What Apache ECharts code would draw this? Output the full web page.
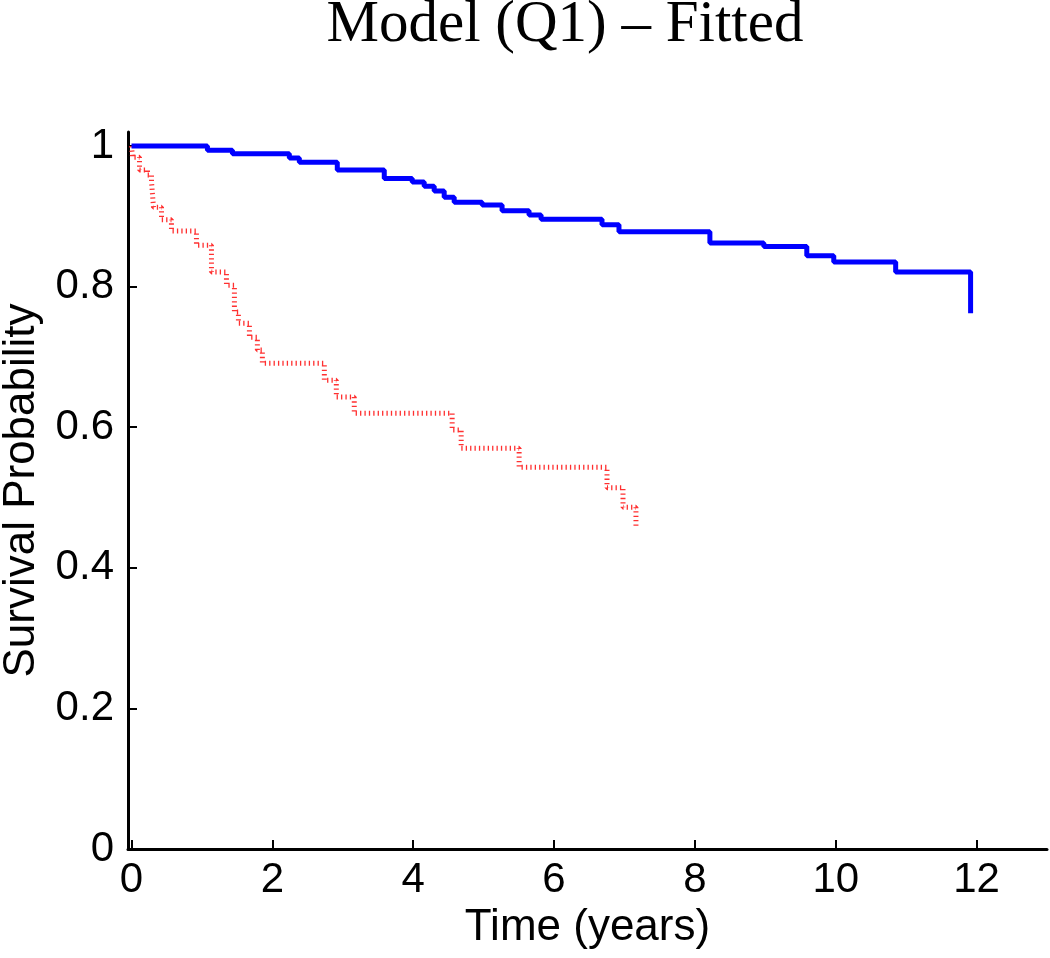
<!DOCTYPE html>
<html>
<head>
<meta charset="utf-8">
<script src="https://cdn.jsdelivr.net/npm/echarts@6/dist/echarts.min.js"></script>
<style>html,body{margin:0;padding:0;background:#fff}#c{width:1050px;height:958px}</style>
</head>
<body>
<div id="c"></div>
<script>
const titleText = 'Model (Q1) – Fitted';
const xName = 'Time (years)';
const yName = 'Survival Probability';
const xTicks = [0, 2, 4, 6, 8, 10, 12];
const yTicks = [0, 0.2, 0.4, 0.6, 0.8, 1];
const yTickLabels = ['0', '0.2', '0.4', '0.6', '0.8', '1'];

const blueTime = [0, 1.078, 1.433, 2.241, 2.383, 2.922, 3.589, 3.986, 4.156, 4.298, 4.44, 4.582, 4.979, 5.262, 5.645, 5.816, 6.681, 6.922, 8.213, 8.979, 9.589, 9.972, 10.851, 11.915];
const blueSurv = [1.0, 0.994, 0.989, 0.983, 0.977, 0.966, 0.954, 0.949, 0.943, 0.936, 0.927, 0.920, 0.916, 0.908, 0.902, 0.896, 0.888, 0.878, 0.862, 0.857, 0.844, 0.835, 0.821, 0.762];

const redTime = [0, 0.014, 0.113, 0.227, 0.284, 0.312, 0.426, 0.567, 0.922, 1.135, 1.348, 1.461, 1.518, 1.674, 1.787, 1.858, 2.738, 2.908, 3.163, 4.553, 4.681, 5.504, 6.752, 6.979, 7.163];
const redSurv = [1.0, 0.984, 0.966, 0.959, 0.949, 0.913, 0.895, 0.879, 0.859, 0.821, 0.802, 0.764, 0.748, 0.728, 0.710, 0.691, 0.667, 0.643, 0.620, 0.596, 0.570, 0.543, 0.514, 0.486, 0.458];

const pair = (xs, ys) => xs.map((x, i) => [x, ys[i]]);

const chart = echarts.init(document.getElementById('c'), null, {renderer: 'canvas'});
const axisFont = 'Liberation Sans, Arial, sans-serif';
chart.setOption({
  animation: false,
  backgroundColor: '#ffffff',
  title: {
    text: titleText,
    left: 560,
    top: -9,
    textAlign: 'center',
    textStyle: {fontFamily: 'Liberation Serif, Times New Roman, serif', fontSize: 59, fontWeight: 'normal', color: '#000'}
  },
  grid: {left: 128, right: 3, top: 132, bottom: 109, containLabel: false, outerBoundsMode: 'none'},
  xAxis: {
    type: 'value',
    min: -0.05,
    max: 13,
    name: xName,
    nameLocation: 'middle',
    nameGap: 54,
    nameTextStyle: {fontFamily: axisFont, fontSize: 44, color: '#000'},
    axisLine: {show: true, onZero: false, lineStyle: {color: '#000', width: 3}},
    axisTick: {show: true, inside: true, length: 9, lineStyle: {color: '#000', width: 2}, customValues: xTicks},
    axisLabel: {fontFamily: axisFont, fontSize: 42, color: '#000', margin: 10, customValues: xTicks, formatter: v => String(v)},
    splitLine: {show: false}
  },
  yAxis: {
    type: 'value',
    min: 0,
    max: 1.02,
    name: yName,
    nameLocation: 'middle',
    nameGap: 84,
    nameTextStyle: {fontFamily: axisFont, fontSize: 44, color: '#000'},
    axisLine: {show: true, onZero: false, lineStyle: {color: '#000', width: 3}},
    axisTick: {show: true, inside: true, length: 9, lineStyle: {color: '#000', width: 2}, customValues: yTicks},
    axisLabel: {fontFamily: axisFont, fontSize: 42, color: '#000', margin: 14, customValues: yTicks,
      formatter: v => { const i = yTicks.findIndex(t => Math.abs(t - v) < 1e-9); return i >= 0 ? yTickLabels[i] : ''; }},
    splitLine: {show: false}
  },
  series: [
    {
      type: 'line', step: 'end', showSymbol: false, symbol: 'none',
      data: pair(blueTime, blueSurv),
      lineStyle: {color: '#0000ff', width: 5},
      z: 3
    },
    {
      type: 'line', step: 'end', showSymbol: false, symbol: 'none',
      data: pair(redTime, redSurv),
      lineStyle: {color: '#ff3030', width: 5, type: [1.3, 3.1]},
      z: 2
    }
  ]
});
</script>
</body>
</html>
